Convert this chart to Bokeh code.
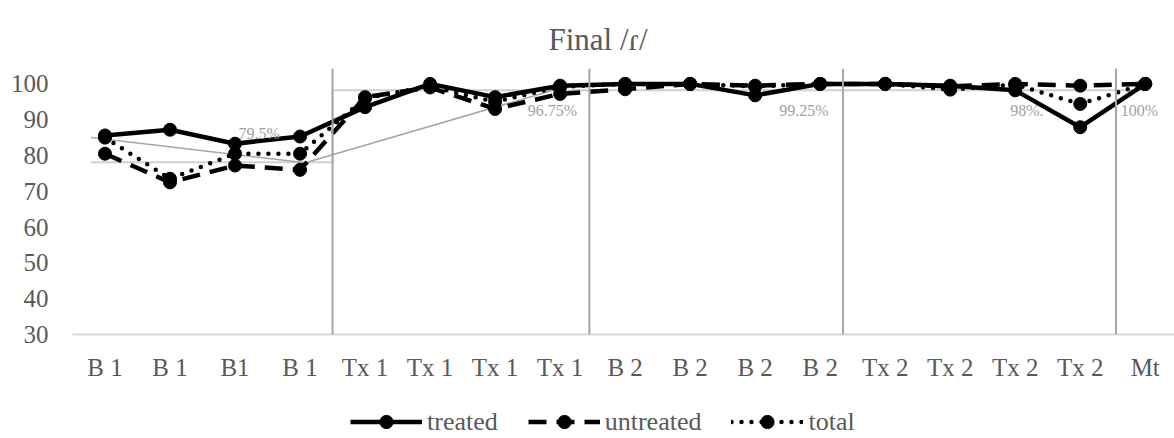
from bokeh.plotting import figure
from bokeh.layouts import column
from bokeh.models import Legend, LegendItem, Span, FixedTicker, ColumnDataSource
from bokeh.core.properties import value
from bokeh.embed import file_html
from bokeh.resources import INLINE

# ---- data ----
categories = ["B 1", "B 1", "B1", "B 1", "Tx 1", "Tx 1", "Tx 1", "Tx 1",
              "B 2", "B 2", "B 2", "B 2", "Tx 2", "Tx 2", "Tx 2", "Tx 2", "Mt"]
treated   = [85.6, 87.2, 83.3, 85.3, 93.5, 100.0, 96.3, 99.5, 100.0, 100.0, 96.8, 100.0, 100.0, 99.5, 98.2, 87.9, 100.0]
untreated = [80.5, 72.5, 77.2, 76.0, 96.3, 99.0, 93.0, 97.2, 98.5, 100.0, 99.5, 100.0, 100.0, 99.3, 100.0, 99.5, 100.0]
total     = [85.0, 73.5, 80.5, 80.5, 96.0, 99.3, 95.0, 99.2, 100.0, 100.0, 99.3, 100.0, 100.0, 98.4, 99.8, 94.4, 100.0]
series_names = ["treated", "untreated", "total"]

# group mean annotations
mean_labels = ["79.5%", "96.75%", "99.25%", "98%.", "100%"]
mean_label_x = [2.37, 6.88, 10.75, 14.18, 15.91]
mean_label_y = [86.1, 92.6, 92.6, 92.6, 92.6]

# light mean step line and darker sloping mean line
mean_step_x = [-0.215, 3.5, 3.5, 16.03]
mean_step_y = [78.1, 78.1, 98.2, 98.2]
mean_slope_x = [-0.215, 3.08, 6.89]
mean_slope_y = [85.0, 78.0, 98.2]

# group separators
separators = [3.5, 7.45, 11.35, 15.55]
y_ticks = [30, 40, 50, 60, 70, 80, 90, 100]

FONT = "Liberation Serif"
TXT = "#595959"

x = list(range(len(categories)))
src = ColumnDataSource(dict(x=x, treated=treated, untreated=untreated, total=total))

p = figure(width=1174, height=400, x_range=(-0.5, 16.45), y_range=(30, 104.3),
           output_backend="svg", toolbar_location=None,
           min_border_left=72, min_border_right=0, min_border_top=68, min_border_bottom=66)
p.outline_line_color = None
p.grid.visible = False

# title
p.title.text = "Final /ɾ/"
p.title.text_font = FONT
p.title.text_font_size = "31px"
p.title.text_font_style = "normal"
p.title.text_color = TXT
p.title.align = "left"
p.title.offset = 476
p.title.standoff = 24

# axes
p.xaxis.ticker = FixedTicker(ticks=x)
p.xaxis.major_label_overrides = {i: c for i, c in enumerate(categories)}
p.xaxis.major_tick_line_color = None
p.xaxis.major_tick_out = 0
p.xaxis.major_tick_in = 0
p.xaxis.minor_tick_line_color = None
p.xaxis.minor_tick_out = 0
p.xaxis.axis_line_color = "#D9D9D9"
p.xaxis.axis_line_width = 2
p.xaxis.major_label_text_font = FONT
p.xaxis.major_label_text_font_size = "25px"
p.xaxis.major_label_text_color = TXT
p.xaxis.major_label_standoff = 19

p.yaxis.ticker = FixedTicker(ticks=y_ticks)
p.yaxis.axis_line_color = None
p.yaxis.major_tick_line_color = None
p.yaxis.major_tick_out = 0
p.yaxis.major_tick_in = 0
p.yaxis.minor_tick_line_color = None
p.yaxis.minor_tick_out = 0
p.yaxis.major_label_text_font = FONT
p.yaxis.major_label_text_font_size = "25px"
p.yaxis.major_label_text_color = TXT
p.yaxis.major_label_standoff = 24

# separators
for s in separators:
    p.add_layout(Span(location=s, dimension="height", line_color="#A6A6A6", line_width=2))

# mean lines
p.line(mean_step_x, mean_step_y, line_color="#D0D0D0", line_width=2)
p.line(mean_slope_x, mean_slope_y, line_color="#A6A6A6", line_width=1.5)

styles = [dict(line_dash="solid", line_cap="butt"),
          dict(line_dash="18 10", line_cap="butt"),
          dict(line_dash="0 10", line_cap="round")]
cols = ["treated", "untreated", "total"]

# series
for c, st in zip(cols, styles):
    p.line("x", c, source=src, line_color="black", line_width=4.5, line_join="round", **st)
    p.scatter("x", c, source=src, size=13, fill_color="black", line_color="black")

# mean labels
p.text(x=mean_label_x, y=mean_label_y, text=mean_labels, text_font=value(FONT),
       text_font_size=value("16px"), text_color="#A0A0A0", text_align="center", text_baseline="middle")

# ---- legend strip (same series, drawn off-range so only the legend shows) ----
p2 = figure(width=1174, height=38, x_range=(0, 1), y_range=(0, 1),
            x_axis_location=None, y_axis_location=None,
            output_backend="svg", toolbar_location=None, min_border=0)
p2.outline_line_color = None
p2.grid.visible = False
items = []
for name, c, st in zip(series_names, cols, styles):
    lr = p2.line("x", c, source=src, line_color="black", line_width=4.5, **st)
    sr = p2.scatter("x", c, source=src, size=13, fill_color="black", line_color="black")
    items.append(LegendItem(label=name, renderers=[lr, sr]))

# the column aligns this strip's frame with the chart frame (left edge at 72 px)
legend = Legend(items=items, orientation="horizontal", location=(278, 0),
                glyph_width=72, glyph_height=33, label_standoff=5, spacing=30,
                border_line_color=None, background_fill_alpha=0, padding=0, margin=0,
                label_text_font=FONT, label_text_font_size="26px", label_text_color=TXT)
p2.add_layout(legend, "center")

layout = column(p, p2, spacing=0)
open("out.html", "w").write(file_html(layout, INLINE))
